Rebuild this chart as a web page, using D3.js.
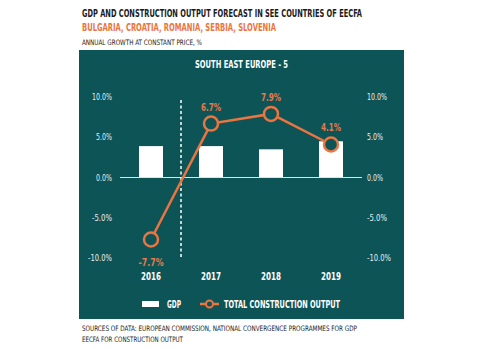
<!DOCTYPE html>
<html>
<head>
<meta charset="utf-8">
<script src="https://cdn.jsdelivr.net/npm/d3@7"></script>
<style>
  body { margin: 0; background: #fff; }
  svg text { font-family: "Liberation Sans Narrow", "DejaVu Sans Condensed", "Roboto", sans-serif; }
</style>
</head>
<body>
<div id="chart"></div>
<script>
const years = ["2016", "2017", "2018", "2019"];
const gdp = [3.9, 3.9, 3.5, 4.5];
const construction = [-7.7, 6.7, 7.9, 4.1];
const yTicks = [-10, -5, 0, 5, 10];

const teal = "#0d5457";
const orange = "#ec7440";
const W = 480, H = 349;

const svg = d3.select("#chart").append("svg")
  .attr("width", W).attr("height", H);

// squeeze a label to a narrow, condensed width
const squeeze = (sel, w) => sel.attr("textLength", w).attr("lengthAdjust", "spacingAndGlyphs");

// headings above the panel
const head = [
  {t: "GDP AND CONSTRUCTION OUTPUT FORECAST IN SEE COUNTRIES OF EECFA", y: 17, size: 10.5, w: 280, c: "#1a1a1a", bold: true},
  {t: "BULGARIA, CROATIA, ROMANIA, SERBIA, SLOVENIA", y: 31, size: 11, w: 194, c: orange, bold: true},
  {t: "ANNUAL GROWTH AT CONSTANT PRICE, %", y: 45, size: 7.5, w: 120, c: "#222", bold: false}
];
head.forEach(h => {
  svg.append("text").attr("x", 82).attr("y", h.y)
    .attr("font-size", h.size).attr("font-weight", h.bold ? "bold" : "normal")
    .attr("fill", h.c).call(squeeze, h.w)
    .text(h.t);
});

// teal panel
svg.append("rect").attr("x", 79).attr("y", 50).attr("width", 325).attr("height", 269)
  .attr("fill", teal);

svg.append("text").attr("x", 241.5).attr("y", 68).attr("text-anchor", "middle")
  .attr("font-size", 10).attr("font-weight", "bold").attr("fill", "#fff")
  .call(squeeze, 93)
  .text("SOUTH EAST EUROPE - 5");

const x = d3.scaleBand().domain(years).range([121, 361])
  .paddingInner(0.6).paddingOuter(0.3);
const y = d3.scaleLinear().domain([-10, 10]).range([258, 97]);
const cx = d => x(d) + x.bandwidth() / 2;

const fmt = d => d.toFixed(1) + "%";

// left and right value axes
const axL = svg.append("g").attr("transform", "translate(112,0)")
  .call(d3.axisLeft(y).tickValues(yTicks).tickSize(0).tickPadding(0).tickFormat(fmt));
const axR = svg.append("g").attr("transform", "translate(367,0)")
  .call(d3.axisRight(y).tickValues(yTicks).tickSize(0).tickPadding(0).tickFormat(fmt));
[axL, axR].forEach(a => {
  a.select(".domain").remove();
  a.selectAll("text").attr("fill", "#e6eeee").attr("font-size", 8.5)
    .style("font-family", "'Liberation Sans Narrow', 'DejaVu Sans Condensed', sans-serif")
    .each(function(d) { squeeze(d3.select(this), fmt(d).length * 4); });
});

// GDP bars
svg.selectAll("rect.bar").data(years).join("rect").attr("class", "bar")
  .attr("x", d => x(d)).attr("width", x.bandwidth())
  .attr("y", (d, i) => y(Math.max(0, gdp[i])))
  .attr("height", (d, i) => Math.abs(y(gdp[i]) - y(0)))
  .attr("fill", "#fff");

// zero line
svg.append("line").attr("x1", 120).attr("x2", 362)
  .attr("y1", y(0)).attr("y2", y(0))
  .attr("stroke", "#d9e4e4").attr("stroke-width", 1);

// actual / forecast divider
const split = (cx("2016") + cx("2017")) / 2;
svg.append("line").attr("x1", split).attr("x2", split)
  .attr("y1", 100).attr("y2", 258)
  .attr("stroke", "#fff").attr("stroke-width", 1.5).attr("stroke-dasharray", "3,2.5");

// construction output line
const pts = years.map((d, i) => [cx(d), y(construction[i])]);
svg.append("path").attr("d", d3.line()(pts))
  .attr("fill", "none").attr("stroke", orange).attr("stroke-width", 2.5);
svg.selectAll("circle.pt").data(pts).join("circle").attr("class", "pt")
  .attr("cx", d => d[0]).attr("cy", d => d[1]).attr("r", 7)
  .attr("fill", teal).attr("stroke", orange).attr("stroke-width", 2.5);

svg.selectAll("text.val").data(construction).join("text").attr("class", "val")
  .attr("x", (d, i) => cx(years[i]))
  .attr("y", d => d < 0 ? y(d) + 27 : y(d) - 13)
  .attr("text-anchor", "middle").attr("font-size", 11).attr("font-weight", "bold")
  .attr("fill", "#e47a4c")
  .each(function(d) { squeeze(d3.select(this), fmt(d).length * 5); })
  .text(fmt);

// year labels
svg.selectAll("text.yr").data(years).join("text").attr("class", "yr")
  .attr("x", d => cx(d)).attr("y", 280).attr("text-anchor", "middle")
  .attr("font-size", 10.5).attr("font-weight", "bold").attr("fill", "#fff")
  .call(squeeze, 20)
  .text(d => d);

// legend
const lg = svg.append("g");
lg.append("rect").attr("x", 142).attr("y", 301).attr("width", 17).attr("height", 6).attr("fill", "#fff");
lg.append("text").attr("x", 167).attr("y", 308).attr("font-size", 10).attr("font-weight", "bold")
  .attr("fill", "#fff").call(squeeze, 14).text("GDP");
lg.append("line").attr("x1", 200).attr("x2", 219).attr("y1", 304).attr("y2", 304)
  .attr("stroke", orange).attr("stroke-width", 2.5);
lg.append("circle").attr("cx", 209.5).attr("cy", 304).attr("r", 3.5)
  .attr("fill", teal).attr("stroke", orange).attr("stroke-width", 2);
lg.append("text").attr("x", 224).attr("y", 308).attr("font-size", 10).attr("font-weight", "bold")
  .attr("fill", "#fff").call(squeeze, 116)
  .text("TOTAL CONSTRUCTION OUTPUT");

// sources
const notes = [
  {t: "SOURCES OF DATA: EUROPEAN COMMISSION, NATIONAL CONVERGENCE PROGRAMMES FOR GDP", y: 331, w: 275},
  {t: "EECFA FOR CONSTRUCTION OUTPUT", y: 342, w: 101}
];
notes.forEach(n => {
  svg.append("text").attr("x", 82).attr("y", n.y).attr("font-size", 7.5)
    .attr("fill", "#222").call(squeeze, n.w)
    .text(n.t);
});
</script>
</body>
</html>
